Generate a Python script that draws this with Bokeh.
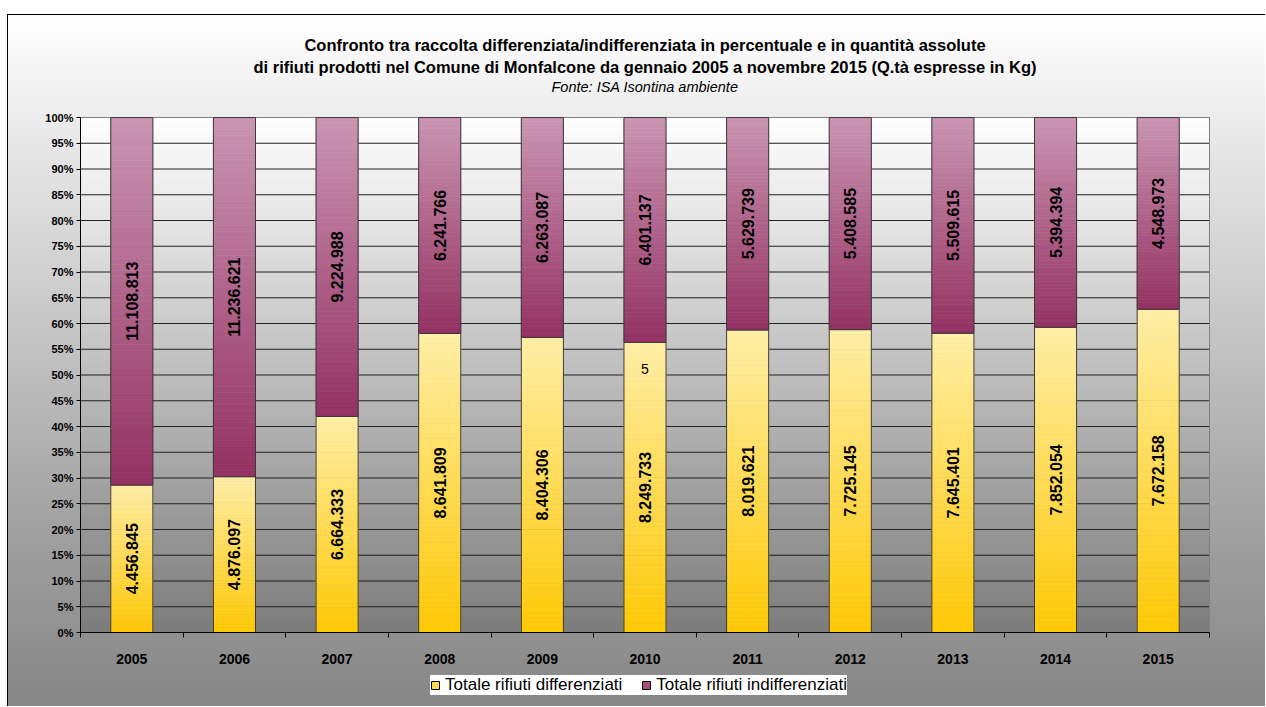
import numpy as np
from bokeh.plotting import figure
from bokeh.models import (Range1d, FixedTicker, NumeralTickFormatter, Label,
                          Legend, LegendItem, ColumnDataSource)
from bokeh.core.properties import value
from bokeh.embed import file_html
from bokeh.resources import INLINE

# ---- data (kg) ----
years = ["2005", "2006", "2007", "2008", "2009", "2010",
         "2011", "2012", "2013", "2014", "2015"]
differenziati = [4456845, 4876097, 6664333, 8641809, 8404306, 8249733,
                 8019621, 7725145, 7645401, 7852054, 7672158]
indifferenziati = [11108813, 11236621, 9224988, 6241766, 6263087, 6401137,
                   5629739, 5408585, 5509615, 5394394, 4548973]
y_ticks = [i / 20 for i in range(21)]

FONT = "Liberation Sans"

diff = np.array(differenziati, dtype=float)
indiff = np.array(indifferenziati, dtype=float)
total = diff + indiff
share_diff = diff / total

n = len(years)
centers = np.arange(n) + 0.5
bar_w = 0.41

# canvas / plot-area geometry in pixels
W, H = 1258, 692
PL, PR, PT, PB = 72, 1201, 102, 617     # plot area edges inside the canvas
sx = (PR - PL) / n
sy = (PB - PT) / 1.0
x_range = Range1d(-PL / sx, n + (W - PR) / sx)
y_range = Range1d(-(H - PB) / sy, 1 + PT / sy)


def it_fmt(v):
    return f"{int(v):,}".replace(",", ".")


def lerp_color(c0, c1, t):
    a = np.array([int(c0[i:i + 2], 16) for i in (1, 3, 5)], dtype=float)
    b = np.array([int(c1[i:i + 2], 16) for i in (1, 3, 5)], dtype=float)
    c = a + (b - a) * t
    return "#%02x%02x%02x" % tuple(int(round(x)) for x in c)


p = figure(width=W, height=H, output_backend="svg", toolbar_location=None,
           x_range=x_range, y_range=y_range,
           min_border_left=0, min_border_right=0,
           min_border_top=0, min_border_bottom=0)
p.border_fill_color = None
p.background_fill_color = None
p.outline_line_color = None
p.styles = {
    "margin-left": "7px",
    "margin-top": "14px",
    "border-left": "1px solid #000000",
    "border-top": "1px solid #000000",
    "background": "linear-gradient(to bottom, #ffffff 0%, #a0a0a0 75%, #868686 100%)",
}
p.xgrid.visible = False
p.ygrid.visible = False

# plot-area gradient: white at the top, grey at the bottom
nb = 100
bg_b = np.arange(nb) / nb
bg_t = bg_b + 1 / nb
bg_c = [lerp_color("#7c7c7c", "#ffffff", (b + 0.5 / nb)) for b in bg_b]
p.quad(left=0, right=n, bottom=bg_b, top=bg_t, fill_color=bg_c,
       line_color=bg_c, line_width=1)

# horizontal gridlines every 5%
p.segment(x0=0, x1=n, y0=y_ticks, y1=y_ticks, line_color="#202020", line_width=1)
# plot-area border
p.quad(left=[0], right=[n], bottom=[0], top=[1], fill_color=None,
       line_color="#808080", line_width=1)

# stacked 100% bars with a vertical gradient fill
ns = 60
series = [
    (np.zeros(n), share_diff, "#ffc905", "#ffeea6"),
    (share_diff, np.ones(n), "#943162", "#ca95b2"),
]
for base, top, c_bottom, c_top in series:
    xs, bs, ts, cs = [], [], [], []
    for i in range(n):
        edges = np.linspace(base[i], top[i], ns + 1)
        for k in range(ns):
            xs.append(centers[i])
            bs.append(edges[k])
            ts.append(edges[k + 1])
            cs.append(lerp_color(c_bottom, c_top, (k + 0.5) / ns))
    p.vbar(x=xs, bottom=bs, top=ts, width=bar_w, fill_color=cs,
           line_color=cs, line_width=0.6)
    p.vbar(x=centers, bottom=base, top=top, width=bar_w, fill_color=None,
           line_color="#3a3a3a", line_width=1)

# value labels, rotated, centred in each segment
lab_src = ColumnDataSource(dict(
    x=np.concatenate([centers, centers]),
    y=np.concatenate([share_diff / 2, (share_diff + 1) / 2]),
    t=[it_fmt(v) for v in differenziati] + [it_fmt(v) for v in indifferenziati],
))
p.text(x="x", y="y", text="t", source=lab_src, angle=np.pi / 2,
       text_align="center", text_baseline="middle",
       text_font=value(FONT), text_font_style="bold",
       text_font_size="16px", text_color="#000000")

# stray label inside the 2010 bar
p.add_layout(Label(x=centers[5], y=0.511, text="5", text_align="center",
                   text_baseline="middle", text_font=FONT,
                   text_font_size="14px", text_color="#000000"))

# axes pinned to the plot area
p.yaxis.fixed_location = 0
p.yaxis.bounds = (0, 1)
p.yaxis.ticker = FixedTicker(ticks=y_ticks)
p.yaxis.formatter = NumeralTickFormatter(format="0%")
p.yaxis.major_label_text_font = FONT
p.yaxis.major_label_text_font_style = "bold"
p.yaxis.major_label_text_font_size = "11px"
p.yaxis.major_label_text_color = "#000000"
p.yaxis.major_tick_out = 4
p.yaxis.major_tick_in = 0
p.yaxis.minor_tick_out = 0
p.yaxis.minor_tick_in = 0
p.yaxis.major_label_standoff = 3
p.yaxis.axis_line_color = "#000000"
p.yaxis.major_tick_line_color = "#000000"

p.xaxis.fixed_location = 0
p.xaxis.bounds = (0, n)
p.xaxis.ticker = FixedTicker(ticks=list(centers), minor_ticks=list(range(n + 1)))
p.xaxis.major_label_overrides = {float(c): y for c, y in zip(centers, years)}
p.xaxis.major_label_text_font = FONT
p.xaxis.major_label_text_font_style = "bold"
p.xaxis.major_label_text_font_size = "14px"
p.xaxis.major_label_text_color = "#000000"
p.xaxis.major_tick_out = 0
p.xaxis.major_tick_in = 0
p.xaxis.minor_tick_out = 5
p.xaxis.minor_tick_in = 0
p.xaxis.major_label_standoff = 16
p.xaxis.axis_line_color = "#000000"
p.xaxis.minor_tick_line_color = "#000000"

# title block
title_lines = [
    ("Confronto tra raccolta differenziata/indifferenziata in percentuale e in quantità assolute", 44, "bold", "16.5px"),
    ("di rifiuti prodotti nel Comune di Monfalcone da gennaio 2005 a novembre 2015 (Q.tà espresse in Kg)", 66, "bold", "16.5px"),
    ("Fonte: ISA Isontina ambiente", 86, "italic", "14.5px"),
]
for txt, py, style, size in title_lines:
    p.add_layout(Label(x=n / 2, y=(PB + 15 - py) / sy, text=txt, text_align="center",
                       text_baseline="middle", text_font=FONT,
                       text_font_style=style, text_font_size=size,
                       text_color="#000000"))

# legend (proxy glyphs carry the swatch colours)
r_diff = p.vbar(x=[np.nan], top=[np.nan], width=bar_w,
                fill_color="#ffd84a", line_color="#000000")
r_indiff = p.vbar(x=[np.nan], top=[np.nan], width=bar_w,
                  fill_color="#a8507c", line_color="#000000")
legend = Legend(items=[
    LegendItem(label="Totale rifiuti differenziati", renderers=[r_diff]),
    LegendItem(label="Totale rifiuti indifferenziati", renderers=[r_indiff]),
], location=(422, 12), orientation="horizontal")
legend.background_fill_color = "#ffffff"
legend.background_fill_alpha = 1
legend.border_line_color = None
legend.padding = 6
legend.margin = 0
legend.spacing = 19
legend.glyph_width = 10
legend.glyph_height = 10
legend.label_standoff = 5
legend.label_height = 11
legend.label_text_font = FONT
legend.label_text_font_size = "17px"
legend.label_text_color = "#000000"
p.add_layout(legend, "center")

html = file_html(p, INLINE, title="Raccolta rifiuti Monfalcone 2005-2015")
open("out.html", "w").write(html)
